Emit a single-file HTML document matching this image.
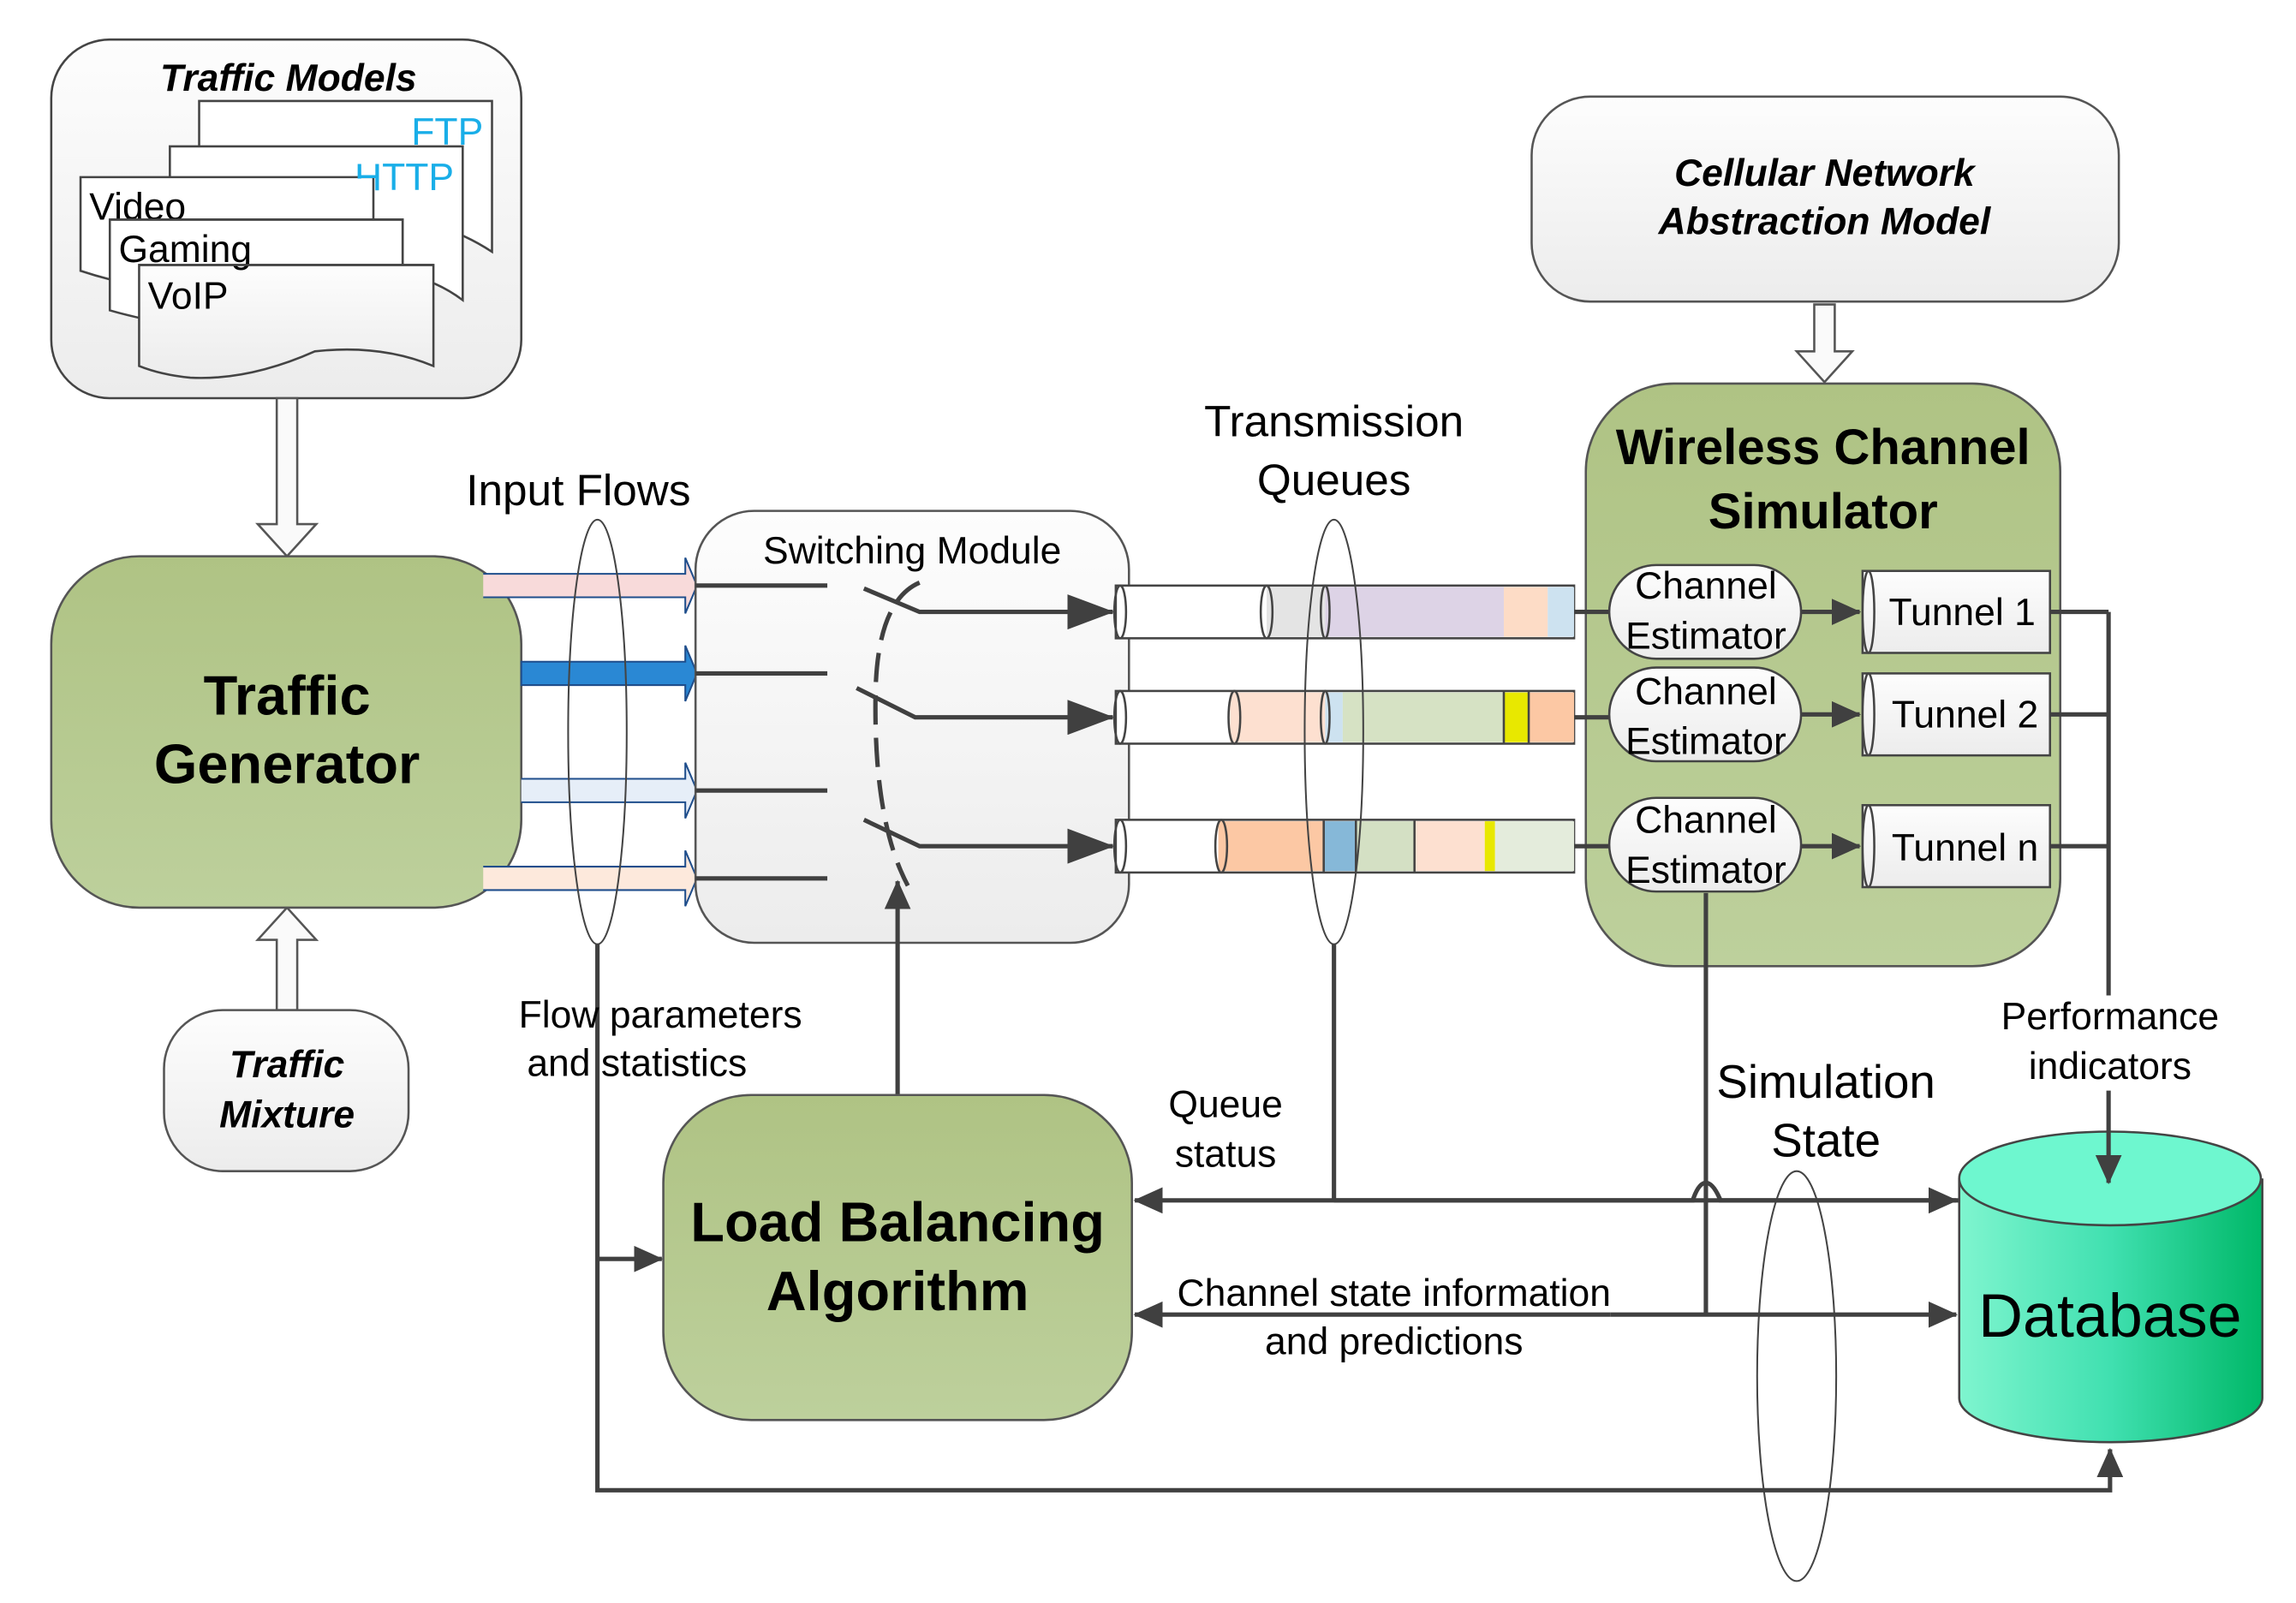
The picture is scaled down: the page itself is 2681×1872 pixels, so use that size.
<!DOCTYPE html>
<html><head><meta charset="utf-8"><style>html,body{margin:0;padding:0;background:#fff}svg{display:block}</style></head><body>
<svg width="2681" height="1872" viewBox="0 0 1568 1095" preserveAspectRatio="none" xmlns="http://www.w3.org/2000/svg" font-family="Liberation Sans, Arial, sans-serif">
<defs>
<linearGradient id="gw" x1="0" y1="0" x2="0" y2="1"><stop offset="0" stop-color="#fdfdfd"/><stop offset="1" stop-color="#ececec"/></linearGradient>
<linearGradient id="gg" x1="0" y1="0" x2="0" y2="1"><stop offset="0" stop-color="#afc384"/><stop offset="1" stop-color="#bdd09c"/></linearGradient>
<linearGradient id="gdb" x1="0" y1="0" x2="1" y2="0"><stop offset="0" stop-color="#7ff5cf"/><stop offset="0.5" stop-color="#40e0b0"/><stop offset="1" stop-color="#00b868"/></linearGradient>
<marker id="ahb" markerWidth="32" markerHeight="24" refX="31" refY="12" orient="auto" markerUnits="userSpaceOnUse"><path d="M0,0 L32,12 L0,24z" fill="#404040"/></marker>
<marker id="ahm" markerWidth="20" markerHeight="18" refX="19" refY="9" orient="auto" markerUnits="userSpaceOnUse"><path d="M0,0 L20,9 L0,18z" fill="#404040"/></marker>
</defs>
<g stroke="#444" stroke-width="1.5">
<rect x="35" y="27" width="321" height="245" rx="40" fill="url(#gw)"/>
<path d="M136,69 H336 V172 Q310,155 280,150 Q236,145 200,160 L136,160z" fill="#fff"/>
<path d="M116,100 H316 V205 Q296,190 270,186 L116,186z" fill="#fff"/>
<path d="M55,121 H255 V198 Q200,180 150,200 Q100,200 55,185z" fill="#fff"/>
<path d="M75,150 H275 V222 Q220,205 170,225 Q120,225 75,212z" fill="#fff"/>
<path d="M95,181 H296 V250 Q260,235 215,240 Q170,260 130,258 Q110,256 95,250z" fill="url(#gw)"/>
</g>
<text x="197" y="62" font-size="26" font-weight="bold" font-style="italic" text-anchor="middle">Traffic Models</text>
<text x="330" y="99" font-size="26" fill="#19aee8" text-anchor="end">FTP</text>
<text x="310" y="130" font-size="26" fill="#19aee8" text-anchor="end">HTTP</text>
<rect x="56" y="122" width="198" height="20" fill="#fff"/>
<text x="61" y="150" font-size="26">Video</text>
<rect x="76" y="151" width="198" height="29" fill="#fff"/>
<text x="81" y="179" font-size="26">Gaming</text>
<path d="M75,150 H275 V181" fill="none" stroke="#444" stroke-width="1.5"/>
<path d="M95,181 H296" stroke="#444" stroke-width="1.5"/>
<text x="101" y="211" font-size="26">VoIP</text>

<g fill="#fafafa" stroke="#555" stroke-width="1.5">
<path d="M189,272 V358 H176 L196,380 L216,358 H203 V272z"/>
<path d="M189,690 V642 H176 L196,620 L216,642 H203 V690z"/>
<path d="M1239,208 V240 H1227 L1246,261 L1265,240 H1253 V208z"/>
</g>

<rect x="35" y="380" width="321" height="240" rx="60" fill="url(#gg)" stroke="#555" stroke-width="1.5"/>
<text x="196" y="488" font-size="38" font-weight="bold" text-anchor="middle">Traffic</text>
<text x="196" y="535" font-size="38" font-weight="bold" text-anchor="middle">Generator</text>

<rect x="112" y="690" width="167" height="110" rx="40" fill="url(#gw)" stroke="#555" stroke-width="1.5"/>
<text x="196" y="736" font-size="26" font-weight="bold" font-style="italic" text-anchor="middle">Traffic</text>
<text x="196" y="770" font-size="26" font-weight="bold" font-style="italic" text-anchor="middle">Mixture</text>

<g stroke="#1f4e8c" stroke-width="1.2">
<path d="M330,392 H468 V381 L476,400 L468,419 V408 H330" fill="#f8dada"/>
<path d="M356,452 H468 V441 L476,460 L468,479 V468 H356z" fill="#2a88d4"/>
<path d="M356,532 H468 V521 L476,540 L468,559 V548 H356" fill="#e6eef8"/>
<path d="M330,592 H468 V581 L476,600 L468,619 V608 H330" fill="#fde9dc"/>
</g>
<text x="395" y="345" font-size="30" text-anchor="middle">Input Flows</text>

<rect x="475" y="349" width="296" height="295" rx="40" fill="url(#gw)" stroke="#555" stroke-width="1.5"/>
<text x="623" y="385" font-size="26" text-anchor="middle">Switching Module</text>
<g stroke="#404040" stroke-width="3" fill="none">
<path d="M475,400 H565 M475,460 H565 M475,540 H565 M475,600 H565"/>
<path d="M590,402 L628,418 H760" marker-end="url(#ahb)"/>
<path d="M585,470 L625,490 H760" marker-end="url(#ahb)"/>
<path d="M590,560 L628,578 H760" marker-end="url(#ahb)"/>
<path d="M628,398 Q600,410 598,470 Q596,560 620,605" stroke-dasharray="20,9"/>
<path d="M613,748 V602" marker-end="url(#ahm)"/>
</g>

<g stroke="#444" stroke-width="1.5">
<rect x="762" y="400" width="313" height="36" fill="#fff"/>
<rect x="865" y="401" width="40" height="34" fill="#e4e4e4" stroke="none"/>
<rect x="905" y="401" width="122" height="34" fill="#ddd3e6" stroke="none"/>
<rect x="1027" y="401" width="30" height="34" fill="#fddcc6" stroke="none"/>
<rect x="1057" y="401" width="18" height="34" fill="#cde2f0" stroke="none"/>
<rect x="762" y="472" width="313" height="36" fill="#fff"/>
<rect x="840" y="473" width="65" height="34" fill="#fde0d0" stroke="none"/>
<rect x="905" y="473" width="12" height="34" fill="#cde2f0" stroke="none"/>
<rect x="917" y="473" width="110" height="34" fill="#d6e2c4" stroke="none"/>
<rect x="1027" y="473" width="17" height="34" fill="#e8e800" stroke="none"/>
<rect x="1044" y="473" width="31" height="34" fill="#fcc8a4" stroke="none"/>
<rect x="762" y="560" width="313" height="36" fill="#fff"/>
<rect x="832" y="561" width="72" height="34" fill="#fcc8a4" stroke="none"/>
<rect x="904" y="561" width="22" height="34" fill="#86b8d8" stroke="none"/>
<rect x="926" y="561" width="40" height="34" fill="#d4e0c4" stroke="none"/>
<rect x="966" y="561" width="48" height="34" fill="#fde0d0" stroke="none"/>
<rect x="1014" y="561" width="7" height="34" fill="#e8e800" stroke="none"/>
<rect x="1021" y="561" width="54" height="34" fill="#e4ecdc" stroke="none"/>
<g fill="none">
<ellipse cx="765" cy="418" rx="4" ry="18"/><ellipse cx="865" cy="418" rx="4" ry="18"/><ellipse cx="905" cy="418" rx="3" ry="18"/>
<ellipse cx="765" cy="490" rx="4" ry="18"/><ellipse cx="843" cy="490" rx="4" ry="18"/><ellipse cx="905" cy="490" rx="3" ry="18"/><path d="M1027,472 V508 M1044,472 V508"/>
<ellipse cx="765" cy="578" rx="4" ry="18"/><ellipse cx="834" cy="578" rx="4" ry="18"/><path d="M904,560 V596 M926,560 V596 M966,560 V596"/>
</g>
</g>
<text x="911" y="298" font-size="30" text-anchor="middle">Transmission</text>
<text x="911" y="338" font-size="30" text-anchor="middle">Queues</text>

<g fill="none" stroke="#444" stroke-width="1.2">
<ellipse cx="408" cy="500" rx="20" ry="145"/>
<ellipse cx="911" cy="500" rx="20" ry="145"/>
<ellipse cx="1227" cy="940" rx="27" ry="140"/>
</g>

<rect x="1046" y="66" width="401" height="140" rx="40" fill="url(#gw)" stroke="#555" stroke-width="1.5"/>
<text x="1246" y="127" font-size="26" font-weight="bold" font-style="italic" text-anchor="middle">Cellular Network</text>
<text x="1246" y="160" font-size="26" font-weight="bold" font-style="italic" text-anchor="middle">Abstraction Model</text>

<rect x="1083" y="262" width="324" height="398" rx="60" fill="url(#gg)" stroke="#555" stroke-width="1.5"/>
<text x="1245" y="317" font-size="34" font-weight="bold" text-anchor="middle">Wireless Channel</text>
<text x="1245" y="361" font-size="34" font-weight="bold" text-anchor="middle">Simulator</text>
<g stroke="#404040" stroke-width="3" fill="none">
<path d="M1075,418 H1100 M1075,490 H1100 M1075,578 H1100"/>
<path d="M1230,418 H1270" marker-end="url(#ahm)"/>
<path d="M1230,488 H1270" marker-end="url(#ahm)"/>
<path d="M1230,578 H1270" marker-end="url(#ahm)"/>
</g>
<g stroke="#444" stroke-width="1.5" fill="url(#gw)">
<rect x="1099" y="386" width="131" height="64" rx="32"/>
<rect x="1099" y="456" width="131" height="64" rx="32"/>
<rect x="1099" y="545" width="131" height="64" rx="32"/>
<rect x="1272" y="390" width="128" height="56"/><rect x="1272" y="460" width="128" height="56"/><rect x="1272" y="550" width="128" height="56"/>
<ellipse cx="1276" cy="418" rx="4" ry="28"/><ellipse cx="1276" cy="488" rx="4" ry="28"/><ellipse cx="1276" cy="578" rx="4" ry="28"/>
</g>
<g font-size="26" text-anchor="middle">
<text x="1165" y="409">Channel</text><text x="1165" y="443">Estimator</text>
<text x="1165" y="481">Channel</text><text x="1165" y="515">Estimator</text>
<text x="1165" y="569">Channel</text><text x="1165" y="603">Estimator</text>
<text x="1340" y="427">Tunnel 1</text><text x="1342" y="497">Tunnel 2</text><text x="1342" y="588">Tunnel n</text>
</g>

<g stroke="#404040" stroke-width="3" fill="none">
<path d="M1400,418 H1440 M1400,488 H1440 M1400,578 H1440"/>
<path d="M1440,418 V680"/>
<path d="M1165,610 V898"/>
<path d="M911,645 V820"/>
<path d="M1338,820 H1175 Q1170,808 1165,808 Q1160,808 1156,820 H775" marker-end="url(#ahm)"/>
<path d="M911,820 H1336" marker-end="url(#ahm)"/>
<path d="M1100,898 H775" marker-end="url(#ahm)"/>
<path d="M1100,898 H1336" marker-end="url(#ahm)"/>
<path d="M408,645 V1018 H1441 V990" marker-end="url(#ahm)"/>
<path d="M408,860 H452" marker-end="url(#ahm)"/>
</g>

<path d="M1338,805 V955 A103,30 0 0 0 1545,955 V805" fill="url(#gdb)" stroke="#444" stroke-width="1.5"/>
<ellipse cx="1441" cy="805" rx="103" ry="32" fill="#6ef7cf" stroke="#444" stroke-width="1.5"/>
<path d="M1440,745 V808" stroke="#404040" stroke-width="3" marker-end="url(#ahm)"/>
<text x="1441" y="913" font-size="42" text-anchor="middle">Database</text>

<rect x="453" y="748" width="320" height="222" rx="60" fill="url(#gg)" stroke="#555" stroke-width="1.5"/>
<text x="613" y="848" font-size="38" font-weight="bold" text-anchor="middle">Load Balancing</text>
<text x="613" y="895" font-size="38" font-weight="bold" text-anchor="middle">Algorithm</text>

<g font-size="26" text-anchor="middle">
<text x="451" y="702">Flow parameters</text><text x="435" y="735">and statistics</text>
<text x="837" y="763">Queue</text><text x="837" y="797">status</text>
<text x="952" y="892">Channel state information</text><text x="952" y="925">and predictions</text>
<text x="1441" y="703">Performance</text><text x="1441" y="737">indicators</text>
</g>
<text x="1247" y="750" font-size="32" text-anchor="middle">Simulation</text>
<text x="1247" y="790" font-size="32" text-anchor="middle">State</text>
</svg>
</body></html>
